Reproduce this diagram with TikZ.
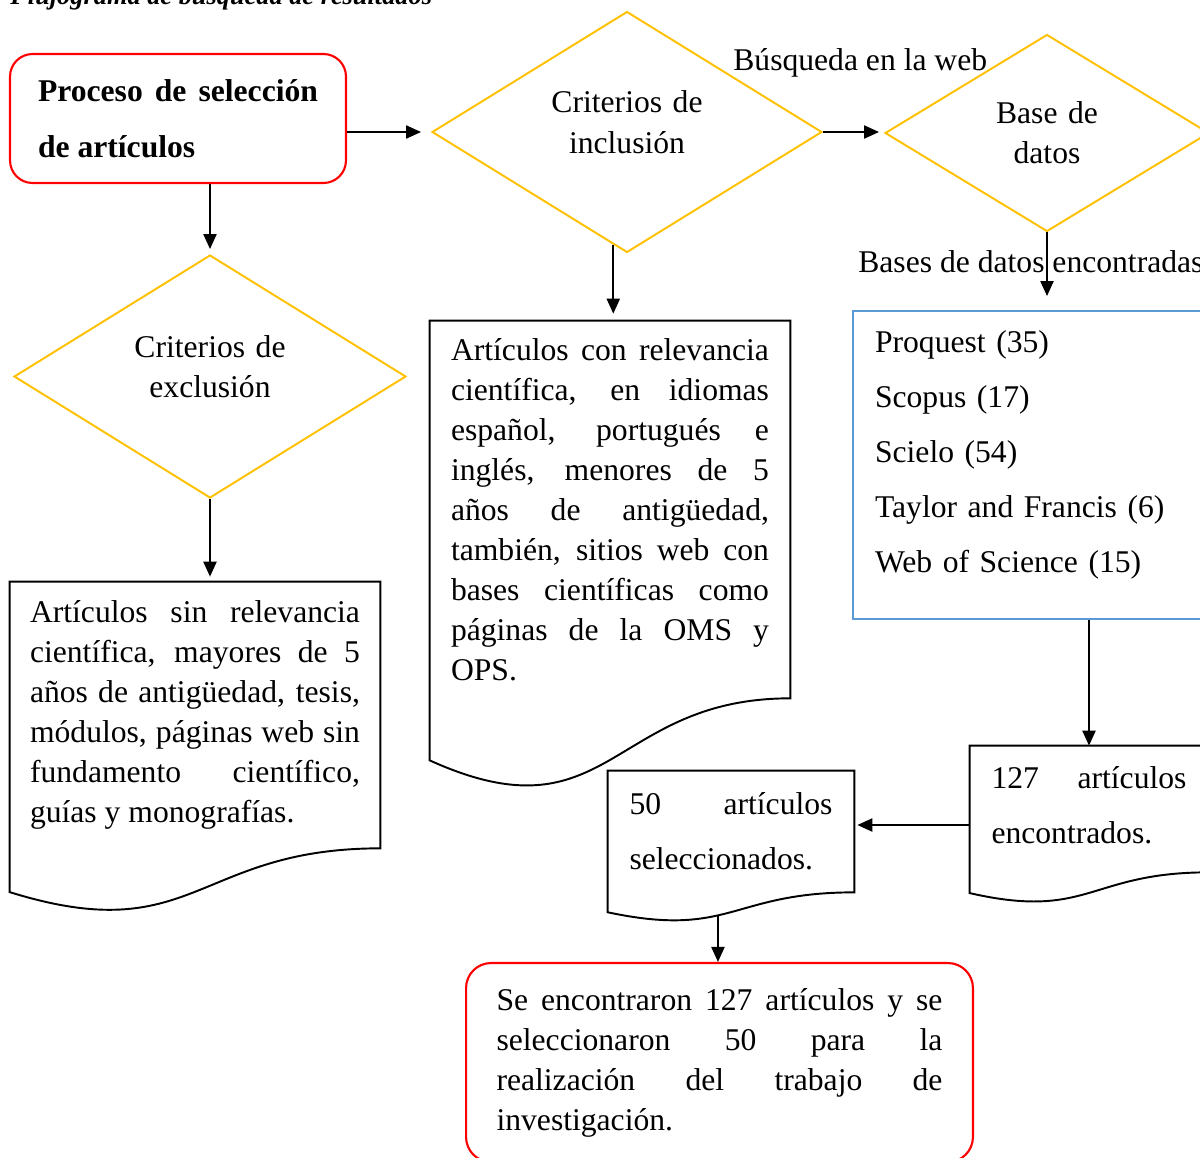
\documentclass[tikz,border=0pt]{standalone}
\usepackage{fontspec}
\setmainfont{Liberation Serif}
\usetikzlibrary{shapes.geometric,arrows.meta,calc}

\definecolor{gold}{RGB}{255,192,0}
\definecolor{redline}{RGB}{255,0,0}
\definecolor{blueline}{RGB}{91,155,213}

\hyphenpenalty=10000
\tolerance=9999

\tikzset{
  txt/.style={font=\fontsize{18}{22.8}\selectfont},
  txtwide/.style={font=\fontsize{18}{31.4}\selectfont},
  decision/.style={diamond, draw=gold, line width=1.1pt, inner sep=0pt, aspect=1.6, txt, text width=3.2cm, align=center},
  roundbox/.style={rectangle, draw=redline, line width=1.2pt, inner sep=0pt},
  docbox/.style={rectangle, inner sep=0pt, txt, align=justify},
  docline/.style={line width=1.1pt},
  arr/.style={-{Triangle[length=0.3cm,width=0.26cm]}, line width=1.2pt},
}

\newcommand{\docoutline}[2]{%
  \draw[docline] (#1.north west) -- (#1.north east) -- (#1.south east)
    .. controls (#1.south) and ($(#1.south)+(0,0.381*#2)$) ..
    ($(#1.south west)+(0,0.1646*#2)$) coordinate[pos=0.57] (#1-out) -- cycle;}

\begin{document}
\begin{tikzpicture}[x=0.02cm,y=-0.02cm]
\useasboundingbox (0,0) rectangle (1200,1157);

\node[anchor=base west, inner sep=0pt, font=\fontsize{15}{18}\bfseries\itshape\selectfont] (title) at (10,4) {Flujograma de búsqueda de resultados};

\node[roundbox, rounded corners=0.45cm, minimum width=6.72cm, minimum height=2.58cm, text width=5.6cm, align=justify, font=\bfseries\fontsize{18}{31.8}\selectfont] (proc) at (178,118.5) {Proceso de selección\linebreak de artículos};

\node[decision, minimum width=7.8cm, minimum height=4.82cm, text depth=1.2cm] (incl) at (627,132) {Criterios de\\inclusión};
\node[decision, minimum width=6.48cm, minimum height=3.94cm] (base) at (1047,133) {Base de\\datos};
\node[decision, minimum width=7.84cm, minimum height=4.86cm, text depth=1.2cm] (excl) at (210,376.5) {Criterios de\\exclusión};

\node[txt, anchor=base west, inner sep=0pt] (weblbl) at (733,70) {Búsqueda en la web};
\node[txt, anchor=base west, inner sep=0pt] (foundlbl) at (858,272) {Bases de datos encontradas};

\node[docbox, minimum width=7.4cm, minimum height=5.32cm, text width=6.6cm] (docl) at (195,715) {Artículos sin relevancia\linebreak científica, mayores de 5\linebreak años de antigüedad, tesis,\linebreak módulos, páginas web sin\linebreak fundamento científico,\linebreak guías y monografías.};
\docoutline{docl}{266}

\node[docbox, minimum width=7.2cm, minimum height=7.54cm, text width=6.36cm] (docm) at (610,509.5) {Artículos con relevancia\linebreak científica, en idiomas\linebreak español, portugués e\linebreak inglés, menores de 5\linebreak años de antigüedad,\linebreak también, sitios web con\linebreak bases científicas como\linebreak páginas de la OMS y\linebreak OPS.};
\docoutline{docm}{377}

\node[rectangle, draw=blueline, line width=1.1pt, inner sep=0pt, minimum width=7.14cm, minimum height=6.16cm, text width=6.26cm, align=left, txtwide, text depth=4.95cm] (dbbox) at (1031.5,465) {Proquest (35)\\Scopus (17)\\Scielo (54)\\Taylor and Francis (6)\\Web of Science (15)};

\node[docbox, txtwide, minimum width=4.76cm, minimum height=2.52cm, text width=3.9cm, text depth=1.26cm] (enc) at (1089,809) {127 artículos\linebreak encontrados.};
\docoutline{enc}{126}

\node[docbox, txtwide, minimum width=4.92cm, minimum height=2.42cm, text width=4.06cm] (sel) at (731,831.5) {50 artículos\linebreak seleccionados.};
\docoutline{sel}{121}

\node[roundbox, rounded corners=0.5cm, minimum width=10.14cm, minimum height=3.98cm, text width=8.92cm, align=justify, txt] (concl) at (719.5,1062.5) {Se encontraron 127 artículos y se\linebreak seleccionaron 50 para la\linebreak realización del trabajo de\linebreak investigación.};

\draw[arr, shorten >=0.2cm] (proc.east |- incl.west) -- (incl.west);
\draw[arr, shorten >=0.1cm] (incl.east) -- (incl.east -| base.west);
\draw[arr, shorten >=0.1cm] (proc.south -| excl.north) -- (excl.north);
\draw[arr, shorten >=0.1cm] (excl.south) -- (excl.south |- docl.north);
\coordinate (inclout) at ($(incl.south)!0.07!(incl.west)$);
\draw[arr, shorten >=0.14cm] (inclout) -- (inclout |- docm.north);
\draw[arr, shorten >=0.28cm] (base.south) -- (base.south |- dbbox.north);
\draw[arr] (dbbox.south -| enc.north) -- (enc.north);
\coordinate (encin) at ([yshift=-0.32cm]enc.west);
\draw[arr, shorten >=0.06cm] (encin) -- (encin -| sel.east);
\draw[arr] (sel-out) -- (sel-out |- concl.north);
\end{tikzpicture}
\end{document}
